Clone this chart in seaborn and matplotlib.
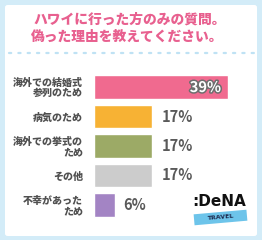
import matplotlib
matplotlib.use("Agg")
import matplotlib.pyplot as plt
import matplotlib.patheffects as pe
from matplotlib.patches import FancyBboxPatch, Rectangle
import seaborn as sns
import pandas as pd

categories = ["海外での結婚式\n参列のため", "病気のため", "海外での挙式の\nため", "その他", "不幸があった\nため"]
values = [39, 17, 17, 17, 6]
value_labels = ["39%", "17%", "17%", "17%", "6%"]
colors = ["#F06A8F", "#F7B234", "#9CAA66", "#CCCCCC", "#A384C4"]
title_lines = ["ハワイに行った方のみの質問。", "偽った理由を教えてください。"]

sns.set_theme(style="white")
plt.rcParams['font.family'] = ['Noto Sans CJK JP', 'DejaVu Sans']

W, H = 262, 240
fig = plt.figure(figsize=(W / 100, H / 100), dpi=100)
fig.patch.set_facecolor("#D3ECF8")

# white panel
panel = FancyBboxPatch((5 / W, 4 / H), 252 / W, 231 / H,
                       boxstyle="round,pad=0,rounding_size=0.01",
                       transform=fig.transFigure, facecolor="white",
                       edgecolor="none", zorder=-5)
fig.patches.append(panel)

# title
fig.text(130 / W, 1 - 20 / H, title_lines[0], ha="center", va="center",
         fontsize=9.9, fontweight="black", color="#E8608F")
fig.text(127 / W, 1 - 37 / H, title_lines[1], ha="center", va="center",
         fontsize=9.9, fontweight="black", color="#E8608F")

# overlay axes in pixel coordinates
line_ax = fig.add_axes([0, 0, 1, 1], facecolor="none")
line_ax.set_xlim(0, W)
line_ax.set_ylim(H, 0)
line_ax.axis("off")
line_ax.plot([9, 255], [53, 53], color="#BFE2F4", lw=1.6,
             linestyle=(0, (1, 3.2)), dash_capstyle="round")

# bar chart
df = pd.DataFrame({"cat": categories, "val": values})
ax = fig.add_axes([94 / W, (H - 219.75) / H, 150 / W, 147.5 / H])
sns.barplot(data=df, x="val", y="cat", hue="cat", palette=colors,
            orient="h", width=0.8, legend=False, ax=ax, saturation=1)
ax.set_xlim(0, 39 * 150 / 134)
ax.set_ylim(4.5, -0.5)
ax.set_xlabel("")
ax.set_ylabel("")
ax.set_xticks([])
for s in ax.spines.values():
    s.set_visible(False)
ax.set_facecolor("none")
ax.tick_params(axis="y", length=0, pad=8)
for lbl in ax.get_yticklabels():
    lbl.set_fontsize(7.2)
    lbl.set_fontweight("black")
    lbl.set_color("#505050")
    lbl.set_linespacing(1.0)
    lbl.set_horizontalalignment("right")

for i, (v, t) in enumerate(zip(values, value_labels)):
    if i == 0:
        ax.text(v - 2.0, i, t, ha="right", va="center", fontsize=10.5,
                fontweight="bold", color="white",
                path_effects=[pe.withStroke(linewidth=2.2, foreground="#6E6E6E")])
    else:
        ax.text(v + 2.6, i, t, ha="left", va="center", fontsize=10.5,
                fontweight="bold", color="#5A5A5A")

# logo
line_ax.text(219, 201, ":DeNA", ha="center", va="center", fontsize=11,
             fontweight="heavy", color="#111111", family=["DejaVu Sans"])
band = Rectangle((194, 212), 53, 11, angle=-5, rotation_point="center",
                 facecolor="#6DC4EA", edgecolor="none")
line_ax.add_patch(band)
line_ax.text(220.5, 217.5, "TRAVEL", ha="center", va="center", fontsize=4.5,
             fontweight="bold", color="#1D2B50", rotation=5,
             family=["DejaVu Sans"])

fig.savefig("out.png", dpi=100, facecolor=fig.get_facecolor())
